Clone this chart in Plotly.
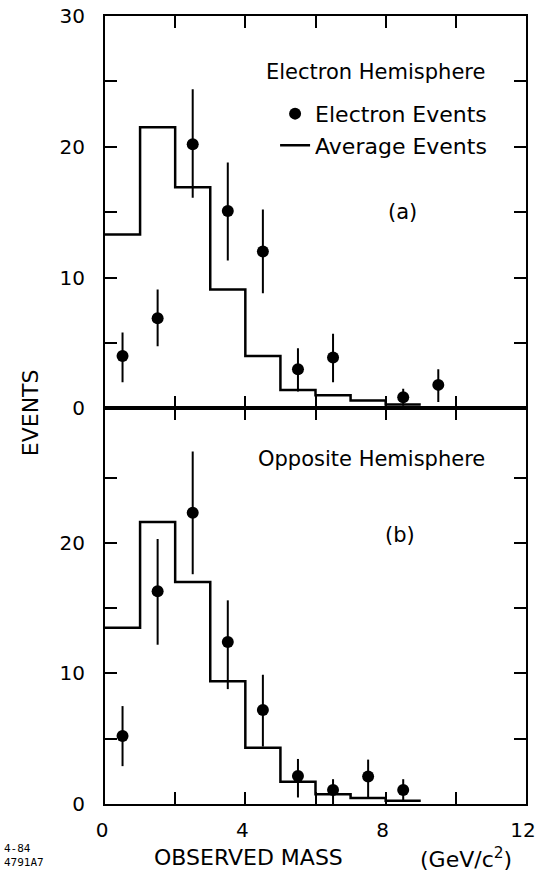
import plotly.graph_objects as go

# ---------------- data ----------------
bin_edges = [0, 1, 2, 3, 4, 5, 6, 7, 8, 9]

# (a) Electron hemisphere
avg_a = [13.3, 21.5, 16.9, 9.1, 4.0, 1.4, 1.0, 0.6, 0.3]
elec_x_a = [0.5, 1.5, 2.5, 3.5, 4.5, 5.5, 6.5, 8.5, 9.5]
elec_y_a = [4.0, 6.9, 20.2, 15.1, 12.0, 3.0, 3.9, 0.85, 1.8]
elec_hi_a = [5.8, 9.1, 24.4, 18.8, 15.2, 4.6, 5.7, 1.5, 3.0]
elec_lo_a = [2.0, 4.75, 16.1, 11.3, 8.8, 1.3, 2.0, 0.2, 0.5]

# (b) Opposite hemisphere
avg_b = [13.5, 21.6, 17.0, 9.4, 4.3, 1.7, 0.75, 0.45, 0.25]
elec_x_b = [0.5, 1.5, 2.5, 3.5, 4.5, 5.5, 6.5, 7.5, 8.5]
elec_y_b = [5.2, 16.3, 22.3, 12.4, 7.2, 2.15, 1.07, 2.1, 1.07]
elec_hi_b = [7.5, 20.3, 27.0, 15.6, 9.9, 3.45, 1.9, 3.4, 1.9]
elec_lo_b = [2.9, 12.2, 17.6, 8.8, 4.4, 0.5, 0.0, 0.45, 0.3]

x_tickvals = [0, 2, 4, 6, 8, 10, 12]
x_ticktext = ["0", "", "4", "", "8", "", "12"]
y_tickvals_a = [0, 5, 10, 15, 20, 25, 30]
y_ticktext_a = ["0", "", "10", "", "20", "", "30"]
y_tickvals_b = [0, 5, 10, 15, 20, 25]
y_ticktext_b = ["0", "", "10", "", "20", ""]

FONT = "DejaVu Sans"

fig = go.Figure()


def add_panel(avg, ex, ey, ehi, elo, xa, ya, legend):
    fig.add_trace(go.Scatter(
        x=ex, y=ey, mode="markers", name="Electron Events",
        marker=dict(color="black", size=12),
        error_y=dict(type="data", symmetric=False,
                     array=[h - v for h, v in zip(ehi, ey)],
                     arrayminus=[v - l for v, l in zip(ey, elo)],
                     color="black", thickness=2, width=0),
        xaxis=xa, yaxis=ya, showlegend=legend))
    fig.add_trace(go.Scatter(
        x=bin_edges, y=avg + [avg[-1]], mode="lines", name="Average Events",
        line=dict(color="black", width=2.5, shape="hv"),
        xaxis=xa, yaxis=ya, showlegend=legend))


add_panel(avg_a, elec_x_a, elec_y_a, elec_hi_a, elec_lo_a, "x", "y", True)
add_panel(avg_b, elec_x_b, elec_y_b, elec_hi_b, elec_lo_b, "x2", "y2", False)

axis_common = dict(showline=True, linewidth=2, linecolor="black", mirror="ticks",
                   ticks="inside", ticklen=12, tickwidth=1.5, tickcolor="black",
                   showgrid=False, zeroline=False, automargin=False,
                   ticklabeloverflow="allow",
                   tickfont=dict(family=FONT, size=20, color="black"))

split = 0.502
fig.update_layout(
    width=537, height=876,
    margin=dict(l=105, r=11, t=16, b=72),
    paper_bgcolor="white", plot_bgcolor="white",
    font=dict(family=FONT, size=20, color="black"),
    xaxis=dict(domain=[0, 1], range=[0, 12], anchor="y", tickvals=x_tickvals,
               showticklabels=False, **axis_common),
    yaxis=dict(domain=[split, 1], range=[0, 30], anchor="x", tickvals=y_tickvals_a,
               ticktext=y_ticktext_a, ticklabelstandoff=14, **axis_common),
    xaxis2=dict(domain=[0, 1], range=[0, 12], anchor="y2", tickvals=x_tickvals,
                ticktext=x_ticktext, ticklabelshift=-3, ticklabelstandoff=7,
                **axis_common),
    yaxis2=dict(domain=[0, split], range=[0, 30.3], anchor="x2", tickvals=y_tickvals_b,
                ticktext=y_ticktext_b, ticklabelstandoff=14, **axis_common),
    legend=dict(x=0.404, y=0.9025, xanchor="left", yanchor="top",
                bgcolor="rgba(0,0,0,0)", font=dict(family=FONT, size=22),
                tracegroupgap=0, itemwidth=30),
)

ann = [
    dict(text="Electron Hemisphere", x=7.72, y=25.7, xref="x", yref="y", size=21),
    dict(text="(a)", x=8.47, y=15.0, xref="x", yref="y", size=21),
    dict(text="Opposite Hemisphere", x=7.6, y=26.4, xref="x2", yref="y2", size=21),
    dict(text="(b)", x=8.4, y=20.6, xref="x2", yref="y2", size=21),
    dict(text="OBSERVED MASS", x=4.08, y=-0.0685, xref="x2", yref="paper", size=22),
    dict(text="(GeV/c<sup>2</sup>)", x=10.3, y=-0.0685, xref="x2", yref="paper", size=22),
    dict(text="EVENTS", x=-0.178, y=0.496, xref="paper", yref="paper", textangle=-90,
         size=22),
]
for a in ann:
    size = a.pop("size")
    fig.add_annotation(showarrow=False, xanchor="center", yanchor="middle",
                       font=dict(family=FONT, size=size, color="black"), **a)

fig.add_annotation(text="4-84<br>4791A7", x=-0.245, y=-0.0654, xref="paper", yref="paper",
                   xanchor="left", yanchor="middle", align="left", showarrow=False,
                   font=dict(family="DejaVu Sans Mono", size=11, color="black"))

fig.write_html("out.html", config={"displayModeBar": False},
               post_script="document.body.style.margin='0';")
